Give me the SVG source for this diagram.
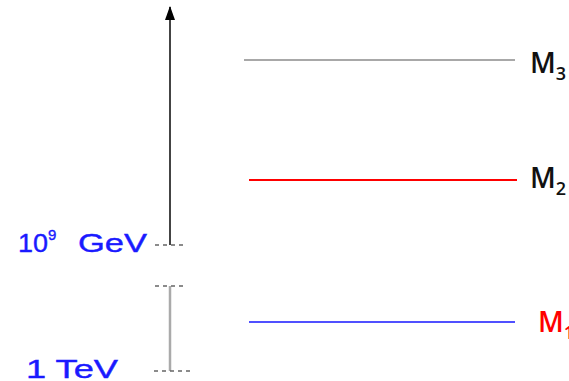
<svg xmlns="http://www.w3.org/2000/svg" width="569" height="381" viewBox="0 0 569 381">
<style>
.lbl{font-family:"Liberation Sans",Arial,sans-serif;font-size:26px;fill:#1a1aff;stroke:#1a1aff;stroke-width:0.4}
.m{font-family:"Open Sans","Liberation Sans",sans-serif;font-size:28px;font-weight:600;fill:#111}
.sub{font-size:18px}
.dash{stroke:#666;stroke-width:1.5;stroke-dasharray:4 4;fill:none}
</style>
<defs>
<marker id="ah" markerWidth="14" markerHeight="10" refX="13" refY="5" orient="auto" markerUnits="userSpaceOnUse" viewBox="0 0 14 10">
<path d="M0,0 L14,5 L0,10 Z" fill="#000"/>
</marker>
</defs>
<rect width="569" height="381" fill="#fff"/>
<g id="connectors">
<line x1="170" y1="245" x2="170" y2="7" stroke="#444" stroke-width="2" marker-end="url(#ah)"/>
<line x1="170" y1="286" x2="170" y2="371" stroke="#aaa" stroke-width="2.5"/>
<line class="dash" x1="155" y1="245" x2="187" y2="245"/>
<line class="dash" x1="155" y1="286" x2="187" y2="286" stroke="#bbb"/>
<line class="dash" x1="154" y1="371" x2="192" y2="371"/>
</g>
<g id="axis-labels">
<text class="lbl" x="18" y="252"><tspan textLength="30" lengthAdjust="spacingAndGlyphs">10</tspan><tspan dy="-12" font-size="15">9</tspan><tspan dy="12" x="78" textLength="69" lengthAdjust="spacingAndGlyphs">GeV</tspan></text>
<text class="lbl" x="26" y="378" textLength="92" lengthAdjust="spacingAndGlyphs">1 TeV</text>
</g>
<g id="M3">
<line x1="244" y1="60" x2="515" y2="60" stroke="#a8a8a8" stroke-width="2"/>
<text class="m" x="530" y="73">M<tspan class="sub" dy="7">3</tspan></text>
</g>
<g id="M2">
<line x1="249" y1="180" x2="517" y2="180" stroke="#ff0000" stroke-width="2"/>
<text class="m" x="530" y="188">M<tspan class="sub" dy="7">2</tspan></text>
</g>
<g id="M1">
<line x1="249" y1="322" x2="515" y2="322" stroke="#5050ff" stroke-width="2"/>
<text class="m" x="538" y="332" style="fill:#ff0000">M<tspan class="sub" dy="7">1</tspan></text>
</g>
</svg>
